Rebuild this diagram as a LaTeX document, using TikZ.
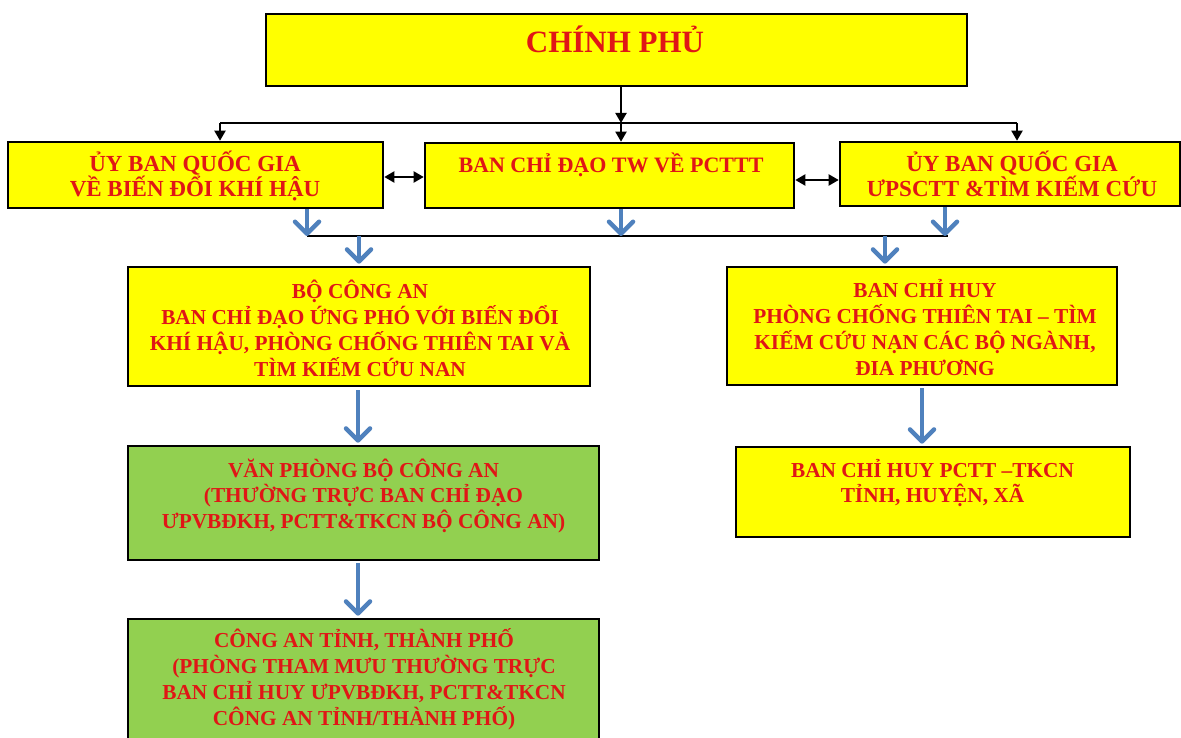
\documentclass[tikz,border=0pt]{standalone}
\usepackage{fontspec}
\setmainfont{Liberation Serif}
\usetikzlibrary{arrows.meta}
\definecolor{boxyellow}{RGB}{255,255,0}
\definecolor{boxgreen}{RGB}{146,208,80}
\definecolor{txtred}{RGB}{224,22,22}
\definecolor{arrblue}{RGB}{79,129,189}
\begin{document}
\begin{tikzpicture}[x=1pt,y=-1pt,
  box/.style={draw=black,line width=2.6pt,inner sep=0pt},
  ybox/.style={box,fill=boxyellow},
  gbox/.style={box,fill=boxgreen},
  txt/.style={text=txtred,font=\bfseries,align=center,inner sep=0pt,anchor=base},
  blk/.style={draw=black,line width=2pt,-{Triangle[length=10pt,width=11pt]}},
  dbl/.style={draw=black,line width=2pt,{Triangle[length=10pt,width=11pt]}-{Triangle[length=10pt,width=11pt]}},
  hline/.style={draw=black,line width=2.2pt},
  barrow/.style={draw=arrblue,line width=4.5pt,-{Straight Barb[length=12pt,width=24pt,round]}}
]
\useasboundingbox[fill=white] (0,0) rectangle (1181,738);

% boxes
\node[ybox,minimum width=701pt,minimum height=72pt] (gov) at (616.5,50) {};
\node[ybox,minimum width=375pt,minimum height=66pt] (ubqg) at (195.5,175) {};
\node[ybox,minimum width=369pt,minimum height=65pt] (bcd) at (609.5,175.5) {};
\node[ybox,minimum width=340pt,minimum height=64pt] (ubtk) at (1010,174) {};
\node[ybox,minimum width=462pt,minimum height=119pt] (bca) at (359,326.5) {};
\node[ybox,minimum width=390pt,minimum height=118pt] (bch) at (922,326) {};
\node[gbox,minimum width=471pt,minimum height=114pt] (vp) at (363.5,503) {};
\node[gbox,minimum width=471pt,minimum height=150pt] (cat) at (363.5,694) {};
\node[ybox,minimum width=394pt,minimum height=90pt] (bchp) at (933,492) {};

% texts (anchor = baseline of last line)
\node[txt,font=\bfseries\fontsize{31}{36}\selectfont] (tgov) at (615,53) {CHÍNH PHỦ};
\node[txt,font=\bfseries\fontsize{23}{25}\selectfont] (tubqg) at (195,197) {ỦY BAN QUỐC GIA\\VỀ BIẾN ĐỔI KHÍ HẬU};
\node[txt,font=\bfseries\fontsize{22}{25}\selectfont] (tbcd) at (611,173) {BAN CHỈ ĐẠO TW VỀ PCTTT};
\node[txt,font=\bfseries\fontsize{23}{24}\selectfont] (tubtk) at (1012,197) {ỦY BAN QUỐC GIA\\ƯPSCTT \&TÌM KIẾM CỨU};
\node[txt,font=\bfseries\fontsize{21.3}{25.8}\selectfont] (tbca) at (360,376) {BỘ CÔNG AN\\BAN CHỈ ĐẠO ỨNG PHÓ VỚI BIẾN ĐỔI\\KHÍ HẬU, PHÒNG CHỐNG THIÊN TAI VÀ\\TÌM KIẾM CỨU NAN};
\node[txt,font=\bfseries\fontsize{21.3}{25.7}\selectfont] (tbch) at (925,375) {BAN CHỈ HUY\\PHÒNG CHỐNG THIÊN TAI – TÌM\\KIẾM CỨU NẠN CÁC BỘ NGÀNH,\\ĐIA PHƯƠNG};
\node[txt,font=\bfseries\fontsize{21.3}{25.5}\selectfont] (tvp) at (363.5,528) {VĂN PHÒNG BỘ CÔNG AN\\(THƯỜNG TRỰC BAN CHỈ ĐẠO\\ƯPVBĐKH, PCTT\&TKCN BỘ CÔNG AN)};
\node[txt,font=\bfseries\fontsize{21.3}{25.7}\selectfont] (tcat) at (364,725) {CÔNG AN TỈNH, THÀNH PHỐ\\(PHÒNG THAM MƯU THƯỜNG TRỰC\\BAN CHỈ HUY ƯPVBĐKH, PCTT\&TKCN\\CÔNG AN TỈNH/THÀNH PHỐ)};
\node[txt,font=\bfseries\fontsize{21.3}{25}\selectfont] (tbchp) at (932.5,502) {BAN CHỈ HUY PCTT –TKCN\\TỈNH, HUYỆN, XÃ};

% black distribution
\coordinate (hl) at (220,123);
\coordinate (hj) at (621,123);
\coordinate (hr) at (1017,123);
\draw[hline] (hl) -- (hr);
\draw[blk] (hj |- gov.south) -- (hj);
\draw[blk] (hl) -- (hl |- ubqg.north);
\draw[blk] (hj) -- (hj |- bcd.north);
\draw[blk] (hr) -- (hr |- ubtk.north);

% double arrows
\draw[dbl] ([yshift=-2pt]ubqg.east) -- ([yshift=-2pt]ubqg.east -| bcd.west);
\draw[dbl] ([yshift=-4.5pt]bcd.east) -- ([yshift=-4.5pt]bcd.east -| ubtk.west);

% blue collector
\coordinate (bl) at (307,236);
\coordinate (bm) at (621,236);
\coordinate (bR) at (945,236);
\coordinate (br) at (948,236);
\coordinate (d1) at (359,236);
\coordinate (d2) at (885,236);
\draw[hline] (bl) -- (br);
\draw[barrow] (bl |- ubqg.south) -- (bl);
\draw[barrow] (bm |- bcd.south) -- (bm);
\draw[barrow] (bR |- ubtk.south) -- (bR);
\draw[barrow] (d1) -- ([yshift=2pt]d1 |- bca.north);
\draw[barrow] (d2) -- ([yshift=2pt]d2 |- bch.north);

% vertical chains
\coordinate (c1) at (358,0);
\coordinate (c2) at (922,0);
\draw[barrow,shorten <=3pt] (c1 |- bca.south) -- ([yshift=2pt]c1 |- vp.north);
\draw[barrow,shorten <=2pt] (c1 |- vp.south) -- ([yshift=2pt]c1 |- cat.north);
\draw[barrow,shorten <=2pt] (c2 |- bch.south) -- ([yshift=2pt]c2 |- bchp.north);
\end{tikzpicture}
\end{document}
